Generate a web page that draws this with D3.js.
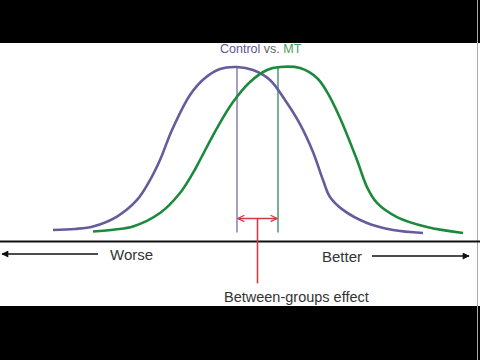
<!DOCTYPE html>
<meta charset="utf-8">
<style>
    body { margin: 0; background: #fff; }
    text {
        font-family: "Liberation Sans", Arial, sans-serif;
        fill: #333;
    }
</style>

<svg width="480" height="360"></svg>

<script src="https://d3js.org/d3.v7.min.js"></script>

<script>
    // outcome score (x) and relative density (y, peak = 100)
    var controlScore = [13.25, 18.75, 23.25, 29.25, 34.25, 37.5, 40, 43, 47.5, 51.25, 55, 59.25,
        63.25, 67.5, 71.25, 75, 78.25, 80.75, 82.5, 85.75, 91.75, 98.25, 105.75];
    var controlDensity = [6.6, 7.2, 8.6, 14.3, 23.8, 35.2, 46.7, 63.9, 84.0, 93.7, 98.9, 100,
        98.3, 92.6, 81.1, 67.3, 51.3, 35.2, 25.5, 18.1, 10.6, 6.6, 4.9];

    var mtScore = [23.25, 28.75, 33.25, 40, 45, 48.25, 50, 54.25, 58.25, 62.5, 66.75,
        70, 75, 79.25, 81.75, 85, 89.25, 91.75, 94.25, 99.25, 106.75, 115.75];
    var mtDensity = [5.7, 6.9, 8.6, 16.3, 27.8, 39.3, 46.7, 65.0, 79.9, 91.4, 98.3,
        100, 99.4, 93.7, 85.7, 70.8, 46.7, 31.2, 22.1, 14.0, 8.3, 4.9];

    var groupMeans = [59.25, 69.5];   // control, MT
    var meanLineBottom = 5.2;
    var bracketLevel = 13.2;
    var effectLabelLevel = -24;

    var svg = d3.select("svg");

    var x = d3.scaleLinear().domain([0, 120]).range([0, 480]);
    var y = d3.scaleLinear().domain([0, 100]).range([241.5, 67]);

    // black bars top and bottom
    svg.append("rect").attr("x", 0).attr("y", 0).attr("width", 480).attr("height", 43).attr("fill", "#000");
    svg.append("rect").attr("x", 0).attr("y", 306).attr("width", 480).attr("height", 54).attr("fill", "#000");
    svg.append("line").attr("x1", 477.5).attr("x2", 477.5).attr("y1", 0).attr("y2", 360)
        .attr("stroke", "#aaa").attr("stroke-width", 1);

    var defs = svg.append("defs");
    defs.append("marker")
        .attr("id", "tri")
        .attr("viewBox", "0 0 10 10")
        .attr("refX", 9).attr("refY", 5)
        .attr("markerWidth", 9).attr("markerHeight", 7)
        .attr("markerUnits", "userSpaceOnUse")
        .attr("orient", "auto-start-reverse")
        .append("path").attr("d", "M0,0L10,5L0,10z").attr("fill", "#111");
    defs.append("marker")
        .attr("id", "chev")
        .attr("viewBox", "0 0 10 10")
        .attr("refX", 9).attr("refY", 5)
        .attr("markerWidth", 8).attr("markerHeight", 8)
        .attr("markerUnits", "userSpaceOnUse")
        .attr("orient", "auto-start-reverse")
        .append("path").attr("d", "M1,1L9,5L1,9").attr("fill", "none")
        .attr("stroke", "#d23a42").attr("stroke-width", 1.6);

    var line = d3.line()
        .x(function (d) { return x(d[0]); })
        .y(function (d) { return y(d[1]); })
        .curve(d3.curveCatmullRom.alpha(0.5));

    // mean lines
    svg.append("line")
        .attr("x1", x(groupMeans[0])).attr("x2", x(groupMeans[0]))
        .attr("y1", y(100)).attr("y2", y(meanLineBottom))
        .attr("stroke", "#8f88b4").attr("stroke-width", 1.6);
    svg.append("line")
        .attr("x1", x(groupMeans[1])).attr("x2", x(groupMeans[1]))
        .attr("y1", y(100)).attr("y2", y(meanLineBottom))
        .attr("stroke", "#5a9e78").attr("stroke-width", 1.6);

    // distributions
    svg.append("path")
        .datum(d3.zip(controlScore, controlDensity))
        .attr("d", line)
        .attr("fill", "none").attr("stroke", "#665c9c").attr("stroke-width", 2.6);
    svg.append("path")
        .datum(d3.zip(mtScore, mtDensity))
        .attr("d", line)
        .attr("fill", "none").attr("stroke", "#1b8a3c").attr("stroke-width", 2.6);

    // baseline axis
    svg.append("line")
        .attr("x1", 0).attr("x2", 480)
        .attr("y1", y(0)).attr("y2", y(0))
        .attr("stroke", "#111").attr("stroke-width", 2);

    // between-groups bracket
    var midMean = (groupMeans[0] + groupMeans[1]) / 2;
    svg.append("line")
        .attr("x1", x(groupMeans[0]) + 1).attr("x2", x(groupMeans[1]) - 1)
        .attr("y1", y(bracketLevel)).attr("y2", y(bracketLevel))
        .attr("stroke", "#d23a42").attr("stroke-width", 1.6)
        .attr("marker-start", "url(#chev)").attr("marker-end", "url(#chev)");
    svg.append("line")
        .attr("x1", x(midMean)).attr("x2", x(midMean))
        .attr("y1", y(bracketLevel)).attr("y2", y(effectLabelLevel))
        .attr("stroke", "#d23a42").attr("stroke-width", 1.6);

    // worse / better arrows
    svg.append("line")
        .attr("x1", 98).attr("x2", 2).attr("y1", 254).attr("y2", 254)
        .attr("stroke", "#111").attr("stroke-width", 1.4)
        .attr("marker-end", "url(#tri)");
    svg.append("line")
        .attr("x1", 372).attr("x2", 469).attr("y1", 256).attr("y2", 256)
        .attr("stroke", "#111").attr("stroke-width", 1.4)
        .attr("marker-end", "url(#tri)");

    svg.append("text").attr("x", 110).attr("y", 259.5)
        .style("font-size", "15px").text("Worse");
    svg.append("text").attr("x", 322).attr("y", 262)
        .style("font-size", "15px").text("Better");

    svg.append("text").attr("x", 224).attr("y", 302)
        .style("font-size", "14.5px").text("Between-groups effect");

    var title = svg.append("text").attr("x", 220).attr("y", 53)
        .style("font-size", "12.5px");
    title.append("tspan").style("fill", "#5e588e").text("Control");
    title.append("tspan").style("fill", "#666").text(" vs. ");
    title.append("tspan").style("fill", "#3f9e62").text("MT");
</script>
